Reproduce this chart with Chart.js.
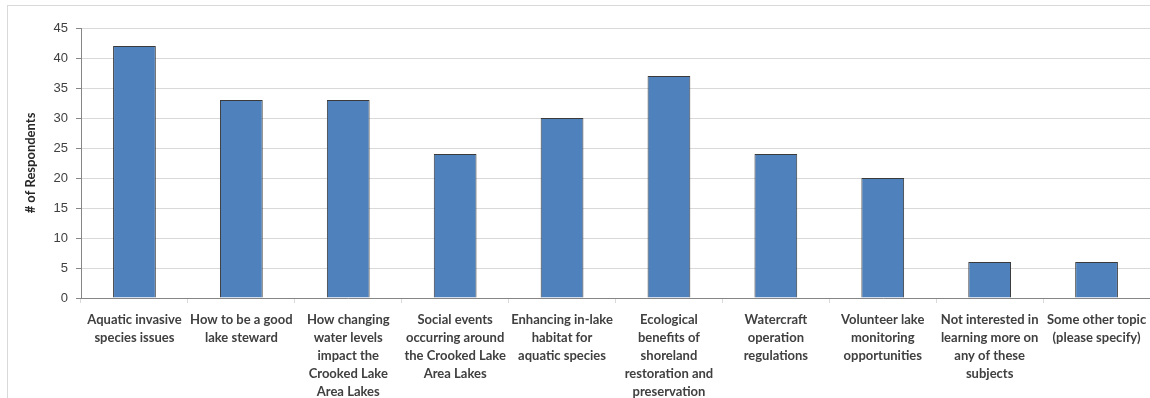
<!DOCTYPE html>
<html>
<head>
<meta charset="utf-8">
<script src="https://cdn.jsdelivr.net/npm/chart.js@4"></script>
<style>
  body { margin: 0; background: #fff; }
  #wrap { position: relative; width: 1150px; height: 398px; }
  #frame { position: absolute; left: 7px; top: 5px; width: 1150px; height: 400px; border: 1px solid #d9d9d9; box-sizing: border-box; }
  canvas { position: absolute; left: 0; top: 0; }
</style>
</head>
<body>
<div id="wrap">
  <div id="frame"></div>
  <canvas id="myChart" width="1150" height="398"></canvas>
</div>
<script>
var categories = [
    ['Aquatic invasive', 'species issues'],
    ['How to be a good', 'lake steward'],
    ['How changing', 'water levels', 'impact the', 'Crooked Lake', 'Area Lakes'],
    ['Social events', 'occurring around', 'the Crooked Lake', 'Area Lakes'],
    ['Enhancing in-lake', 'habitat for', 'aquatic species'],
    ['Ecological', 'benefits of', 'shoreland', 'restoration and', 'preservation'],
    ['Watercraft', 'operation', 'regulations'],
    ['Volunteer lake', 'monitoring', 'opportunities'],
    ['Not interested in', 'learning more on', 'any of these', 'subjects'],
    ['Some other topic', '(please specify)']
];
var respondents = [42, 33, 33, 24, 30, 37, 24, 20, 6, 6];
var yTicks = [0, 5, 10, 15, 20, 25, 30, 35, 40, 45];

var ctx = document.getElementById('myChart').getContext('2d');
var myChart = new Chart(ctx, {
    type: 'bar',
    data: {
        labels: categories,
        datasets: [{
            label: '# of Respondents',
            data: respondents,
            backgroundColor: '#4f81bd',
            borderColor: '#3a3a3a',
            borderWidth: 1,
            categoryPercentage: 1,
            barPercentage: 0.4
        }]
    },
    options: {
        responsive: false,
        animation: false,
        layout: {
            padding: { top: 28, right: 0, left: 0, bottom: 0 }
        },
        plugins: {
            legend: { display: false },
            tooltip: { enabled: false }
        },
        scales: {
            y: {
                min: 0,
                max: 45,
                afterFit: function (axis) { axis.width = 81; },
                afterBuildTicks: function (axis) {
                    axis.ticks = yTicks.map(function (v) { return { value: v }; });
                },
                title: {
                    display: true,
                    text: '# of Respondents',
                    color: '#262626',
                    font: { family: 'Lato', size: 13, weight: 'bold' },
                    padding: { top: 23, bottom: 6 }
                },
                ticks: {
                    color: '#404040',
                    font: { family: 'Liberation Sans', size: 13 },
                    padding: 8
                },
                grid: {
                    color: '#d9d9d9',
                    tickColor: '#868686',
                    tickLength: 5
                },
                border: { color: '#868686' }
            },
            x: {
                afterFit: function (axis) {
                    axis.height = 100;
                    axis.paddingLeft = 0;
                    axis.paddingRight = 0;
                },
                ticks: {
                    color: '#404040',
                    font: { family: 'Lato', size: 13, weight: 'bold', lineHeight: 1.38 },
                    maxRotation: 0,
                    minRotation: 0,
                    autoSkip: false,
                    padding: 8
                },
                grid: {
                    offset: true,
                    drawOnChartArea: false,
                    color: '#d9d9d9',
                    tickLength: 5
                },
                border: { color: '#868686' }
            }
        }
    }
});
</script>
</body>
</html>
